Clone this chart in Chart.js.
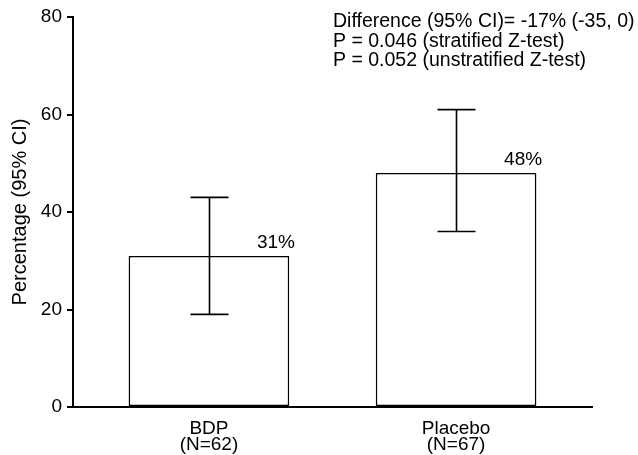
<!DOCTYPE html>
<html>
<head>
<meta charset="utf-8">
<script src="https://cdn.jsdelivr.net/npm/chart.js@4.4.1/dist/chart.umd.min.js"></script>
<style>
  html, body { margin: 0; padding: 0; background: #ffffff; }
  #wrap { width: 638px; height: 455px; }
</style>
</head>
<body>
<div id="wrap"><canvas id="c" width="638" height="455"></canvas></div>
<script>
// Responder percentages with 95% confidence intervals, by treatment group
const categories = ['BDP', 'Placebo'];
const sampleSizes = ['(N=62)', '(N=67)'];
const percentages = [31, 48];
const ciLower = [19, 36];
const ciUpper = [43, 61];
const yTicks = [0, 20, 40, 60, 80];
const notes = [
  'Difference (95% CI)= -17% (-35, 0)',
  'P = 0.046 (stratified Z-test)',
  'P = 0.052 (unstratified Z-test)'
];

// groups sit at x = 1, 2 on a linear axis
const groupPositions = categories.map((_, i) => i + 1);

const FONT = "'Liberation Sans', Arial, Helvetica, sans-serif";
const INK = '#000000';

// vertical CI whiskers with caps, plus the percentage label at each bar top
const errorBarPlugin = {
  id: 'errorBars',
  afterDatasetsDraw(chart, args, opts) {
    const { ctx } = chart;
    const y = chart.scales.y;
    const meta = chart.getDatasetMeta(0);
    ctx.save();
    ctx.strokeStyle = INK;
    ctx.lineWidth = opts.lineWidth;
    meta.data.forEach((bar, i) => {
      const x = Math.round(bar.x) + 0.5;
      const yLo = y.getPixelForValue(ciLower[i]);
      const yHi = y.getPixelForValue(ciUpper[i]);
      ctx.beginPath();
      ctx.moveTo(x, yLo);
      ctx.lineTo(x, yHi);
      ctx.moveTo(x - opts.capWidth / 2, yHi);
      ctx.lineTo(x + opts.capWidth / 2, yHi);
      ctx.moveTo(x - opts.capWidth / 2, yLo);
      ctx.lineTo(x + opts.capWidth / 2, yLo);
      ctx.stroke();

      ctx.fillStyle = INK;
      ctx.font = opts.labelFont;
      ctx.textAlign = 'left';
      ctx.textBaseline = 'alphabetic';
      ctx.fillText(percentages[i] + '%', bar.x + opts.labelDx, bar.y - opts.labelDy);
    });
    ctx.restore();
  }
};

// statistics summary in the upper right
const notesPlugin = {
  id: 'notes',
  afterDraw(chart, args, opts) {
    const { ctx } = chart;
    ctx.save();
    ctx.fillStyle = INK;
    ctx.font = opts.font;
    ctx.textAlign = 'left';
    ctx.textBaseline = 'alphabetic';
    notes.forEach((line, i) => {
      ctx.fillText(line, opts.x, opts.y + i * opts.lineGap);
    });
    ctx.restore();
  }
};

new Chart(document.getElementById('c'), {
  type: 'bar',
  data: {
    datasets: [{
      data: groupPositions.map((x, i) => ({ x, y: percentages[i] })),
      backgroundColor: '#ffffff',
      borderColor: INK,
      borderWidth: 1.6,
      borderSkipped: false,
      barPercentage: 0.65,
      categoryPercentage: 1.0
    }]
  },
  plugins: [errorBarPlugin, notesPlugin],
  options: {
    responsive: false,
    animation: false,
    devicePixelRatio: 1,
    layout: { padding: { top: 17, right: 46, left: 0, bottom: 0 } },
    plugins: {
      legend: { display: false },
      tooltip: { enabled: false },
      errorBars: { lineWidth: 1.6, capWidth: 38, labelDx: 48, labelDy: 8, labelFont: '19px ' + FONT },
      notes: { font: '19.5px ' + FONT, x: 333, y: 27, lineGap: 19.5 }
    },
    scales: {
      x: {
        type: 'linear',
        offset: false,
        min: 0.45,
        max: 2.55,
        afterBuildTicks(scale) {
          scale.ticks = groupPositions.map(v => ({ value: v }));
        },
        afterFit(scale) { scale.height = 48; },
        grid: { display: false, offset: false },
        border: { display: true, color: INK, width: 2 },
        ticks: {
          color: INK,
          padding: 6,
          maxRotation: 0,
          autoSkip: false,
          font: { family: FONT, size: 19, lineHeight: 0.85 },
          callback(value) {
            const i = groupPositions.indexOf(value);
            return i < 0 ? '' : [categories[i], sampleSizes[i]];
          }
        }
      },
      y: {
        min: yTicks[0],
        max: yTicks[yTicks.length - 1],
        afterBuildTicks(scale) {
          scale.ticks = yTicks.map(v => ({ value: v }));
        },
        afterFit(scale) { scale.width = 73; },
        border: { display: true, color: INK, width: 2 },
        grid: {
          display: true,
          drawOnChartArea: false,
          drawTicks: true,
          tickLength: 6,
          color: INK,
          lineWidth: 2
        },
        ticks: {
          color: INK,
          padding: 5,
          font: { family: FONT, size: 19 }
        },
        title: {
          display: true,
          text: 'Percentage (95% CI)',
          color: INK,
          padding: { top: 8, bottom: 0 },
          font: { family: FONT, size: 20 }
        }
      }
    }
  }
});
</script>
</body>
</html>
